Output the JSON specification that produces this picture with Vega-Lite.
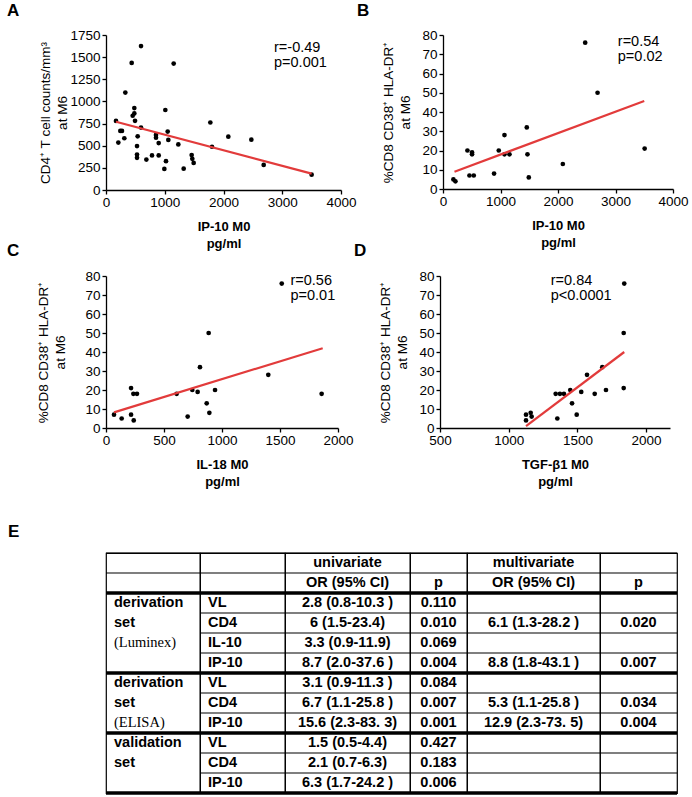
{
"$schema": "https://vega.github.io/schema/vega-lite/v6.json",
"background": "white",
"padding": {"left": 7, "top": 2, "right": 0, "bottom": 0},
"config": {
  "view": {"stroke": null},
  "font": "Liberation Sans",
  "axis": {"domainColor": "black", "domainWidth": 1.3, "tickColor": "black", "tickWidth": 1.3, "tickSize": 4, "labelColor": "black", "labelFont": "Liberation Sans", "labelFontSize": 13.5, "titleColor": "black", "titleFont": "Liberation Sans", "titleFontSize": 13.5, "titleFontWeight": "normal", "grid": false, "labelPadding": 2, "labelFlush": false, "labelOverlap": false},
  "axisX": {"titleFontWeight": "bold", "titleFontSize": 13, "titleLineHeight": 17, "titlePadding": 12, "labelPadding": 1},
  "axisY": {"titlePadding": 9, "titleLineHeight": 17, "labelOverlap": false},
  "title": {"fontSize": 17, "fontWeight": "bold", "font": "Liberation Sans", "anchor": "start", "color": "black", "frame": "group"},
  "text": {"color": "black", "font": "Liberation Sans"}
},
"datasets": {
  "A": [{"x":170,"y":780},{"x":210,"y":535},{"x":244,"y":667},{"x":272,"y":667},{"x":312,"y":584},{"x":329,"y":1100},{"x":437,"y":1435},{"x":454,"y":838},{"x":482,"y":925},{"x":482,"y":865},{"x":494,"y":781},{"x":528,"y":496},{"x":528,"y":401},{"x":528,"y":363},{"x":539,"y":606},{"x":596,"y":1625},{"x":596,"y":705},{"x":687,"y":344},{"x":783,"y":390},{"x":851,"y":622},{"x":851,"y":591},{"x":897,"y":390},{"x":897,"y":530},{"x":993,"y":238},{"x":1010,"y":903},{"x":1021,"y":325},{"x":1050,"y":660},{"x":1061,"y":565},{"x":1152,"y":1427},{"x":1231,"y":515},{"x":1322,"y":241},{"x":1458,"y":394},{"x":1469,"y":352},{"x":1492,"y":306},{"x":1776,"y":762},{"x":1804,"y":488},{"x":2082,"y":602},{"x":2474,"y":568},{"x":2684,"y":283},{"x":3500,"y":173}],
  "lA": [{"x":170,"y":770},{"x":3500,"y":185}],
  "B": [{"x":181,"y":5},{"x":216,"y":4},{"x":425,"y":20},{"x":460,"y":7},{"x":505,"y":19},{"x":505,"y":18},{"x":535,"y":7},{"x":888,"y":8},{"x":970,"y":20},{"x":1069,"y":28},{"x":1069,"y":18},{"x":1156,"y":18},{"x":1457,"y":32},{"x":1469,"y":18},{"x":1492,"y":6},{"x":2084,"y":13},{"x":2473,"y":76},{"x":2688,"y":50},{"x":3507,"y":21}],
  "lB": [{"x":200,"y":9},{"x":3500,"y":45.7}],
  "C": [{"x":69,"y":7},{"x":135,"y":5},{"x":216,"y":21},{"x":216,"y":7},{"x":236,"y":18},{"x":239,"y":4},{"x":267,"y":18},{"x":609,"y":18},{"x":704,"y":6},{"x":744,"y":20},{"x":790,"y":19},{"x":810,"y":32},{"x":868,"y":13},{"x":885,"y":50},{"x":891,"y":8},{"x":940,"y":20},{"x":1399,"y":28},{"x":1515,"y":76},{"x":1859,"y":18}],
  "lC": [{"x":69,"y":8.2},{"x":1868,"y":42}],
  "D": [{"x":1126,"y":7},{"x":1126,"y":4},{"x":1160,"y":8},{"x":1167,"y":6},{"x":1354,"y":5},{"x":1342,"y":18},{"x":1373,"y":18},{"x":1402,"y":18},{"x":1448,"y":20},{"x":1461,"y":13},{"x":1495,"y":7},{"x":1528,"y":19},{"x":1570,"y":28},{"x":1626,"y":18},{"x":1681,"y":32},{"x":1708,"y":20},{"x":1837,"y":21},{"x":1837,"y":50},{"x":1841,"y":76}],
  "lD": [{"x":1126,"y":1},{"x":1841,"y":40}],
  "cells": [
    {"row":0,"col":"c2","text":"univariate"},{"row":0,"col":"c4","text":"multivariate"},
    {"row":1,"col":"c2","text":"OR (95% CI)"},{"row":1,"col":"c3","text":"p"},{"row":1,"col":"c4","text":"OR (95% CI)"},{"row":1,"col":"c5","text":"p"},
    {"row":2,"col":"c0","text":"derivation"},{"row":3,"col":"c0","text":"set"},{"row":4,"col":"c0","text":"(Luminex)"},
    {"row":6,"col":"c0","text":"derivation"},{"row":7,"col":"c0","text":"set"},{"row":8,"col":"c0","text":"(ELISA)"},
    {"row":9,"col":"c0","text":"validation"},{"row":10,"col":"c0","text":"set"},
    {"row":2,"col":"c1","text":"VL"},{"row":3,"col":"c1","text":"CD4"},{"row":4,"col":"c1","text":"IL-10"},{"row":5,"col":"c1","text":"IP-10"},
    {"row":6,"col":"c1","text":"VL"},{"row":7,"col":"c1","text":"CD4"},{"row":8,"col":"c1","text":"IP-10"},
    {"row":9,"col":"c1","text":"VL"},{"row":10,"col":"c1","text":"CD4"},{"row":11,"col":"c1","text":"IP-10"},
    {"row":2,"col":"c2","text":"2.8 (0.8-10.3 )"},{"row":3,"col":"c2","text":"6 (1.5-23.4)"},{"row":4,"col":"c2","text":"3.3 (0.9-11.9)"},{"row":5,"col":"c2","text":"8.7 (2.0-37.6 )"},
    {"row":6,"col":"c2","text":"3.1 (0.9-11.3 )"},{"row":7,"col":"c2","text":"6.7 (1.1-25.8 )"},{"row":8,"col":"c2","text":"15.6 (2.3-83. 3)"},
    {"row":9,"col":"c2","text":"1.5 (0.5-4.4)"},{"row":10,"col":"c2","text":"2.1 (0.7-6.3)"},{"row":11,"col":"c2","text":"6.3 (1.7-24.2 )"},
    {"row":2,"col":"c3","text":"0.110"},{"row":3,"col":"c3","text":"0.010"},{"row":4,"col":"c3","text":"0.069"},{"row":5,"col":"c3","text":"0.004"},
    {"row":6,"col":"c3","text":"0.084"},{"row":7,"col":"c3","text":"0.007"},{"row":8,"col":"c3","text":"0.001"},
    {"row":9,"col":"c3","text":"0.427"},{"row":10,"col":"c3","text":"0.183"},{"row":11,"col":"c3","text":"0.006"},
    {"row":3,"col":"c4","text":"6.1 (1.3-28.2 )"},{"row":5,"col":"c4","text":"8.8 (1.8-43.1 )"},{"row":7,"col":"c4","text":"5.3 (1.1-25.8 )"},{"row":8,"col":"c4","text":"12.9 (2.3-73. 5)"},
    {"row":3,"col":"c5","text":"0.020"},{"row":5,"col":"c5","text":"0.007"},{"row":7,"col":"c5","text":"0.034"},{"row":8,"col":"c5","text":"0.004"}
  ],
  "hlines": [
    {"row":0,"edge":"top","w":"thin","inner":false},{"row":1,"edge":"top","w":"thin","inner":false},{"row":2,"edge":"top","w":"thick","inner":false},
    {"row":3,"edge":"top","w":"thin","inner":true},{"row":4,"edge":"top","w":"thin","inner":true},{"row":5,"edge":"top","w":"thin","inner":true},
    {"row":6,"edge":"top","w":"thick","inner":false},{"row":7,"edge":"top","w":"thin","inner":true},{"row":8,"edge":"top","w":"thin","inner":true},
    {"row":9,"edge":"top","w":"thick","inner":false},{"row":10,"edge":"top","w":"thin","inner":true},{"row":11,"edge":"top","w":"thin","inner":true},
    {"row":11,"edge":"bottom","w":"thick","inner":false}
  ]
},
"spacing": 33,
"vconcat": [
  {
    "spacing": -9,
    "vconcat": [
      {
        "spacing": 0,
        "hconcat": [
          {
            "width": 235, "height": 155,
            "title": {"text": "A", "dx": -99, "offset": 8},
            "layer": [
              {"data": {"name": "A"}, "mark": {"type": "circle", "size": 22, "color": "black", "opacity": 1},
               "encoding": {
                 "x": {"field": "x", "type": "quantitative", "scale": {"domain": [0, 4000], "nice": false}, "axis": {"values": [0,1000,2000,3000,4000], "format": "d", "labelOverlap": false, "title": ["IP-10 M0", "pg/ml"]}},
                 "y": {"field": "y", "type": "quantitative", "scale": {"domain": [0, 1750], "nice": false}, "axis": {"values": [0,250,500,750,1000,1250,1500,1750], "format": "d", "labelOverlap": false, "titlePadding": 0, "title": ["CD4⁺ T cell counts/mm³", "at M6"]}}}},
              {"data": {"name": "lA"}, "mark": {"type": "line", "color": "#e23b3b", "strokeWidth": 2.2},
               "encoding": {
                 "x": {"field": "x", "type": "quantitative", "axis": {"values": [0,1000,2000,3000,4000], "format": "d", "labelOverlap": false, "title": ["IP-10 M0", "pg/ml"]}},
                 "y": {"field": "y", "type": "quantitative", "axis": {"values": [0,250,500,750,1000,1250,1500,1750], "format": "d", "labelOverlap": false, "titlePadding": 0, "title": ["CD4⁺ T cell counts/mm³", "at M6"]}}}},
              {"data": {"values": [{}]}, "mark": {"type": "text", "text": ["r=-0.49", "p=0.001"], "align": "left", "baseline": "top", "fontSize": 14.5, "lineHeight": 15},
               "encoding": {
                 "x": {"datum": 2860, "type": "quantitative", "axis": {"values": [0,1000,2000,3000,4000], "format": "d", "labelOverlap": false, "title": ["IP-10 M0", "pg/ml"]}},
                 "y": {"datum": 1680, "type": "quantitative", "axis": {"values": [0,250,500,750,1000,1250,1500,1750], "format": "d", "labelOverlap": false, "titlePadding": 0, "title": ["CD4⁺ T cell counts/mm³", "at M6"]}}}}
            ]
          },
          {
            "width": 230, "height": 154,
            "title": {"text": "B", "dx": -86, "offset": 8},
            "layer": [
              {"data": {"name": "B"}, "mark": {"type": "circle", "size": 22, "color": "black", "opacity": 1},
               "encoding": {
                 "x": {"field": "x", "type": "quantitative", "scale": {"domain": [0, 4000], "nice": false}, "axis": {"values": [0,1000,2000,3000,4000], "format": "d", "labelOverlap": false, "title": ["IP-10 M0", "pg/ml"]}},
                 "y": {"field": "y", "type": "quantitative", "scale": {"domain": [0, 80], "nice": false}, "axis": {"values": [0,10,20,30,40,50,60,70,80], "format": "d", "labelOverlap": false, "title": ["%CD8 CD38⁺ HLA-DR⁺", "at M6"]}}}},
              {"data": {"name": "lB"}, "mark": {"type": "line", "color": "#e23b3b", "strokeWidth": 2.2},
               "encoding": {
                 "x": {"field": "x", "type": "quantitative", "axis": {"values": [0,1000,2000,3000,4000], "format": "d", "labelOverlap": false, "title": ["IP-10 M0", "pg/ml"]}},
                 "y": {"field": "y", "type": "quantitative", "axis": {"values": [0,10,20,30,40,50,60,70,80], "format": "d", "labelOverlap": false, "title": ["%CD8 CD38⁺ HLA-DR⁺", "at M6"]}}}},
              {"data": {"values": [{}]}, "mark": {"type": "text", "text": ["r=0.54", "p=0.02"], "align": "left", "baseline": "top", "fontSize": 14.5, "lineHeight": 15},
               "encoding": {
                 "x": {"datum": 3040, "type": "quantitative", "axis": {"values": [0,1000,2000,3000,4000], "format": "d", "labelOverlap": false, "title": ["IP-10 M0", "pg/ml"]}},
                 "y": {"datum": 80, "type": "quantitative", "axis": {"values": [0,10,20,30,40,50,60,70,80], "format": "d", "labelOverlap": false, "title": ["%CD8 CD38⁺ HLA-DR⁺", "at M6"]}}}}
            ]
          }
        ]
      },
      {
        "spacing": 0,
        "hconcat": [
          {
            "width": 232, "height": 152,
            "title": {"text": "C", "dx": -99, "offset": 9},
            "layer": [
              {"data": {"name": "C"}, "mark": {"type": "circle", "size": 22, "color": "black", "opacity": 1},
               "encoding": {
                 "x": {"field": "x", "type": "quantitative", "scale": {"domain": [0, 2000], "nice": false}, "axis": {"values": [0,500,1000,1500,2000], "format": "d", "labelOverlap": false, "title": ["IL-18 M0", "pg/ml"]}},
                 "y": {"field": "y", "type": "quantitative", "scale": {"domain": [0, 80], "nice": false}, "axis": {"values": [0,10,20,30,40,50,60,70,80], "format": "d", "labelOverlap": false, "titlePadding": 17, "title": ["%CD8 CD38⁺ HLA-DR⁺", "at M6"]}}}},
              {"data": {"name": "lC"}, "mark": {"type": "line", "color": "#e23b3b", "strokeWidth": 2.2},
               "encoding": {
                 "x": {"field": "x", "type": "quantitative", "axis": {"values": [0,500,1000,1500,2000], "format": "d", "labelOverlap": false, "title": ["IL-18 M0", "pg/ml"]}},
                 "y": {"field": "y", "type": "quantitative", "axis": {"values": [0,10,20,30,40,50,60,70,80], "format": "d", "labelOverlap": false, "titlePadding": 17, "title": ["%CD8 CD38⁺ HLA-DR⁺", "at M6"]}}}},
              {"data": {"values": [{}]}, "mark": {"type": "text", "text": ["r=0.56", "p=0.01"], "align": "left", "baseline": "top", "fontSize": 14.5, "lineHeight": 15},
               "encoding": {
                 "x": {"datum": 1590, "type": "quantitative", "axis": {"values": [0,500,1000,1500,2000], "format": "d", "labelOverlap": false, "title": ["IL-18 M0", "pg/ml"]}},
                 "y": {"datum": 80.8, "type": "quantitative", "axis": {"values": [0,10,20,30,40,50,60,70,80], "format": "d", "labelOverlap": false, "titlePadding": 17, "title": ["%CD8 CD38⁺ HLA-DR⁺", "at M6"]}}}}
            ]
          },
          {
            "width": 230, "height": 152,
            "title": {"text": "D", "dx": -86, "offset": 9},
            "layer": [
              {"data": {"name": "D"}, "mark": {"type": "circle", "size": 22, "color": "black", "opacity": 1},
               "encoding": {
                 "x": {"field": "x", "type": "quantitative", "scale": {"domain": [500, 2174], "nice": false, "zero": false}, "axis": {"values": [500,1000,1500,2000], "format": "d", "labelOverlap": false, "title": ["TGF-β1 M0", "pg/ml"]}},
                 "y": {"field": "y", "type": "quantitative", "scale": {"domain": [0, 80], "nice": false}, "axis": {"values": [0,10,20,30,40,50,60,70,80], "format": "d", "labelOverlap": false, "title": ["%CD8 CD38⁺ HLA-DR⁺", "at M6"]}}}},
              {"data": {"name": "lD"}, "mark": {"type": "line", "color": "#e23b3b", "strokeWidth": 2.2},
               "encoding": {
                 "x": {"field": "x", "type": "quantitative", "axis": {"values": [500,1000,1500,2000], "format": "d", "labelOverlap": false, "title": ["TGF-β1 M0", "pg/ml"]}},
                 "y": {"field": "y", "type": "quantitative", "axis": {"values": [0,10,20,30,40,50,60,70,80], "format": "d", "labelOverlap": false, "title": ["%CD8 CD38⁺ HLA-DR⁺", "at M6"]}}}},
              {"data": {"values": [{}]}, "mark": {"type": "text", "text": ["r=0.84", "p<0.0001"], "align": "left", "baseline": "top", "fontSize": 14.5, "lineHeight": 15},
               "encoding": {
                 "x": {"datum": 1306, "type": "quantitative", "axis": {"values": [500,1000,1500,2000], "format": "d", "labelOverlap": false, "title": ["TGF-β1 M0", "pg/ml"]}},
                 "y": {"datum": 80.8, "type": "quantitative", "axis": {"values": [0,10,20,30,40,50,60,70,80], "format": "d", "labelOverlap": false, "title": ["%CD8 CD38⁺ HLA-DR⁺", "at M6"]}}}}
            ]
          }
        ]
      }
    ]
  },
  {
    "title": {"text": "E", "dx": -98, "offset": 11},
    "spacing": 0,
    "bounds": "flush",
    "hconcat": [
      {
        "width": 94, "height": 240,
        "view": {"stroke": "black", "strokeWidth": 1.2},
        "layer": [
          {"data": {"name": "cells"}, "transform": [{"filter": "datum.col === 'c0' && substring(datum.text, 0, 1) !== '('"}],
           "mark": {"type": "text", "align": "left", "dx": 8, "fontWeight": "bold", "fontSize": 14.5},
           "encoding": {"x": {"datum": 0, "type": "quantitative", "scale": {"domain": [0, 1]}, "axis": null},
                        "y": {"field": "row", "type": "ordinal", "scale": {"domain": [0,1,2,3,4,5,6,7,8,9,10,11], "paddingInner": 0, "paddingOuter": 0}, "axis": null},
                        "text": {"field": "text"}}},
          {"data": {"name": "cells"}, "transform": [{"filter": "datum.col === 'c0' && substring(datum.text, 0, 1) === '('"}],
           "mark": {"type": "text", "align": "left", "dx": 8, "font": "Liberation Serif", "fontSize": 14.5},
           "encoding": {"x": {"datum": 0, "type": "quantitative", "axis": null},
                        "y": {"field": "row", "type": "ordinal", "axis": null},
                        "text": {"field": "text"}}},
          {"data": {"name": "hlines"}, "transform": [{"filter": "datum.edge === 'top' && !datum.inner"}],
           "mark": {"type": "rule", "color": "black"},
           "encoding": {"y": {"field": "row", "type": "ordinal", "bandPosition": 0, "axis": null},
                        "strokeWidth": {"field": "w", "type": "nominal", "scale": {"domain": ["thin", "thick"], "range": [1.2, 3.5]}, "legend": null}}},
          {"data": {"name": "hlines"}, "transform": [{"filter": "datum.edge === 'bottom'"}],
           "mark": {"type": "rule", "color": "black", "strokeWidth": 3.5},
           "encoding": {"y": {"field": "row", "type": "ordinal", "bandPosition": 1, "axis": null}}}
        ]
      },
      {
        "width": 85, "height": 240,
        "view": {"stroke": "black", "strokeWidth": 1.2},
        "layer": [
          {"data": {"name": "cells"}, "transform": [{"filter": "datum.col === 'c1'"}],
           "mark": {"type": "text", "align": "left", "dx": 8, "fontWeight": "bold", "fontSize": 14.5},
           "encoding": {"x": {"datum": 0, "type": "quantitative", "scale": {"domain": [0, 1]}, "axis": null},
                        "y": {"field": "row", "type": "ordinal", "scale": {"domain": [0,1,2,3,4,5,6,7,8,9,10,11], "paddingInner": 0, "paddingOuter": 0}, "axis": null},
                        "text": {"field": "text"}}},
          {"data": {"name": "hlines"}, "transform": [{"filter": "datum.edge === 'top'"}],
           "mark": {"type": "rule", "color": "black"},
           "encoding": {"y": {"field": "row", "type": "ordinal", "bandPosition": 0, "axis": null},
                        "strokeWidth": {"field": "w", "type": "nominal", "scale": {"domain": ["thin", "thick"], "range": [1.2, 3.5]}, "legend": null}}},
          {"data": {"name": "hlines"}, "transform": [{"filter": "datum.edge === 'bottom'"}],
           "mark": {"type": "rule", "color": "black", "strokeWidth": 3.5},
           "encoding": {"y": {"field": "row", "type": "ordinal", "bandPosition": 1, "axis": null}}}
        ]
      },
      {
        "width": 125, "height": 240,
        "view": {"stroke": "black", "strokeWidth": 1.2},
        "layer": [
          {"data": {"name": "cells"}, "transform": [{"filter": "datum.col === 'c2'"}],
           "mark": {"type": "text", "fontWeight": "bold", "fontSize": 14.5},
           "encoding": {"y": {"field": "row", "type": "ordinal", "scale": {"domain": [0,1,2,3,4,5,6,7,8,9,10,11], "paddingInner": 0, "paddingOuter": 0}, "axis": null},
                        "text": {"field": "text"}}},
          {"data": {"name": "hlines"}, "transform": [{"filter": "datum.edge === 'top'"}],
           "mark": {"type": "rule", "color": "black"},
           "encoding": {"y": {"field": "row", "type": "ordinal", "bandPosition": 0, "axis": null},
                        "strokeWidth": {"field": "w", "type": "nominal", "scale": {"domain": ["thin", "thick"], "range": [1.2, 3.5]}, "legend": null}}},
          {"data": {"name": "hlines"}, "transform": [{"filter": "datum.edge === 'bottom'"}],
           "mark": {"type": "rule", "color": "black", "strokeWidth": 3.5},
           "encoding": {"y": {"field": "row", "type": "ordinal", "bandPosition": 1, "axis": null}}}
        ]
      },
      {
        "width": 57, "height": 240,
        "view": {"stroke": "black", "strokeWidth": 1.2},
        "layer": [
          {"data": {"name": "cells"}, "transform": [{"filter": "datum.col === 'c3'"}],
           "mark": {"type": "text", "fontWeight": "bold", "fontSize": 14.5},
           "encoding": {"y": {"field": "row", "type": "ordinal", "scale": {"domain": [0,1,2,3,4,5,6,7,8,9,10,11], "paddingInner": 0, "paddingOuter": 0}, "axis": null},
                        "text": {"field": "text"}}},
          {"data": {"name": "hlines"}, "transform": [{"filter": "datum.edge === 'top'"}],
           "mark": {"type": "rule", "color": "black"},
           "encoding": {"y": {"field": "row", "type": "ordinal", "bandPosition": 0, "axis": null},
                        "strokeWidth": {"field": "w", "type": "nominal", "scale": {"domain": ["thin", "thick"], "range": [1.2, 3.5]}, "legend": null}}},
          {"data": {"name": "hlines"}, "transform": [{"filter": "datum.edge === 'bottom'"}],
           "mark": {"type": "rule", "color": "black", "strokeWidth": 3.5},
           "encoding": {"y": {"field": "row", "type": "ordinal", "bandPosition": 1, "axis": null}}}
        ]
      },
      {
        "width": 133, "height": 240,
        "view": {"stroke": "black", "strokeWidth": 1.2},
        "layer": [
          {"data": {"name": "cells"}, "transform": [{"filter": "datum.col === 'c4'"}],
           "mark": {"type": "text", "fontWeight": "bold", "fontSize": 14.5},
           "encoding": {"y": {"field": "row", "type": "ordinal", "scale": {"domain": [0,1,2,3,4,5,6,7,8,9,10,11], "paddingInner": 0, "paddingOuter": 0}, "axis": null},
                        "text": {"field": "text"}}},
          {"data": {"name": "hlines"}, "transform": [{"filter": "datum.edge === 'top'"}],
           "mark": {"type": "rule", "color": "black"},
           "encoding": {"y": {"field": "row", "type": "ordinal", "bandPosition": 0, "axis": null},
                        "strokeWidth": {"field": "w", "type": "nominal", "scale": {"domain": ["thin", "thick"], "range": [1.2, 3.5]}, "legend": null}}},
          {"data": {"name": "hlines"}, "transform": [{"filter": "datum.edge === 'bottom'"}],
           "mark": {"type": "rule", "color": "black", "strokeWidth": 3.5},
           "encoding": {"y": {"field": "row", "type": "ordinal", "bandPosition": 1, "axis": null}}}
        ]
      },
      {
        "width": 77, "height": 240,
        "view": {"stroke": "black", "strokeWidth": 1.2},
        "layer": [
          {"data": {"name": "cells"}, "transform": [{"filter": "datum.col === 'c5'"}],
           "mark": {"type": "text", "fontWeight": "bold", "fontSize": 14.5},
           "encoding": {"y": {"field": "row", "type": "ordinal", "scale": {"domain": [0,1,2,3,4,5,6,7,8,9,10,11], "paddingInner": 0, "paddingOuter": 0}, "axis": null},
                        "text": {"field": "text"}}},
          {"data": {"name": "hlines"}, "transform": [{"filter": "datum.edge === 'top'"}],
           "mark": {"type": "rule", "color": "black"},
           "encoding": {"y": {"field": "row", "type": "ordinal", "bandPosition": 0, "axis": null},
                        "strokeWidth": {"field": "w", "type": "nominal", "scale": {"domain": ["thin", "thick"], "range": [1.2, 3.5]}, "legend": null}}},
          {"data": {"name": "hlines"}, "transform": [{"filter": "datum.edge === 'bottom'"}],
           "mark": {"type": "rule", "color": "black", "strokeWidth": 3.5},
           "encoding": {"y": {"field": "row", "type": "ordinal", "bandPosition": 1, "axis": null}}}
        ]
      }
    ]
  }
]
}
